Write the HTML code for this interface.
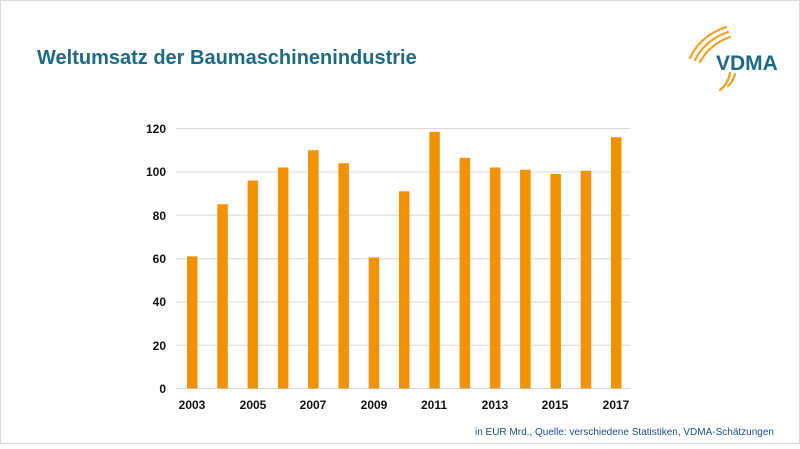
<!DOCTYPE html>
<html><head><style>
body{margin:0;width:800px;height:444px;background:#fff;overflow:hidden;font-family:"Liberation Sans",Arial,sans-serif}
</style></head><body>
<svg width="800" height="444" xmlns="http://www.w3.org/2000/svg" font-family="Liberation Sans, Arial, sans-serif">
<rect x="0.5" y="0.5" width="799" height="443" fill="#fff" stroke="#d8d8d8"/>
<text x="37" y="64" font-size="20" font-weight="bold" fill="#1b6a87">Weltumsatz der Baumaschinenindustrie</text>
<g fill="none" stroke="#f0a020" stroke-width="2.2" stroke-linecap="round">
<path d="M690 58 Q700 36 726 27"/>
<path d="M695 60 Q705 40 728 32"/>
<path d="M700 62 Q710 44 730 37"/>
<path d="M730 73 Q728 84 720 90"/>
<path d="M735 74 Q733 82 728 86"/>
</g>
<text x="716" y="70" font-size="21" font-weight="bold" fill="#1b6a87">VDMA</text>
<g stroke="#d9d9d9" stroke-width="1">
<line x1="176" x2="630" y1="128.5" y2="128.5"/>
<line x1="176" x2="630" y1="172" y2="172"/>
<line x1="176" x2="630" y1="215.3" y2="215.3"/>
<line x1="176" x2="630" y1="258.7" y2="258.7"/>
<line x1="176" x2="630" y1="302" y2="302"/>
<line x1="176" x2="630" y1="345.3" y2="345.3"/>
<line x1="176" x2="630" y1="388.5" y2="388.5"/>
</g>
<g font-size="12" font-weight="bold" fill="#111" text-anchor="end">
<text x="166" y="133">120</text><text x="166" y="176">100</text><text x="166" y="220">80</text>
<text x="166" y="263">60</text><text x="166" y="306">40</text><text x="166" y="350">20</text><text x="166" y="393">0</text>
</g>
<g fill="#f39200" id="bars"></g>
<g font-size="12" font-weight="bold" fill="#111" text-anchor="middle">
<text x="192" y="409">2003</text><text x="253" y="409">2005</text><text x="313" y="409">2007</text>
<text x="374" y="409">2009</text><text x="434" y="409">2011</text><text x="495" y="409">2013</text>
<text x="555" y="409">2015</text><text x="616" y="409">2017</text>
</g>
<text x="774" y="435" font-size="10" fill="#1b4f8a" text-anchor="end">in EUR Mrd., Quelle: verschiedene Statistiken, VDMA-Schätzungen</text>
<g fill="#f39200">
<rect x="187" y="256.3" width="10.5" height="132.2"/>
<rect x="217.3" y="204.3" width="10.5" height="184.2"/>
<rect x="247.6" y="180.5" width="10.5" height="208"/>
<rect x="277.9" y="167.5" width="10.5" height="221"/>
<rect x="308.1" y="150.2" width="10.5" height="238.3"/>
<rect x="338.4" y="163.2" width="10.5" height="225.3"/>
<rect x="368.7" y="257.4" width="10.5" height="131.1"/>
<rect x="399" y="191.3" width="10.5" height="197.2"/>
<rect x="429.3" y="131.8" width="10.5" height="256.7"/>
<rect x="459.6" y="157.8" width="10.5" height="230.7"/>
<rect x="489.9" y="167.5" width="10.5" height="221"/>
<rect x="520.1" y="169.7" width="10.5" height="218.8"/>
<rect x="550.4" y="174" width="10.5" height="214.5"/>
<rect x="580.7" y="170.8" width="10.5" height="217.7"/>
<rect x="611" y="137.2" width="10.5" height="251.3"/>
</g>
</svg>
</body></html>
